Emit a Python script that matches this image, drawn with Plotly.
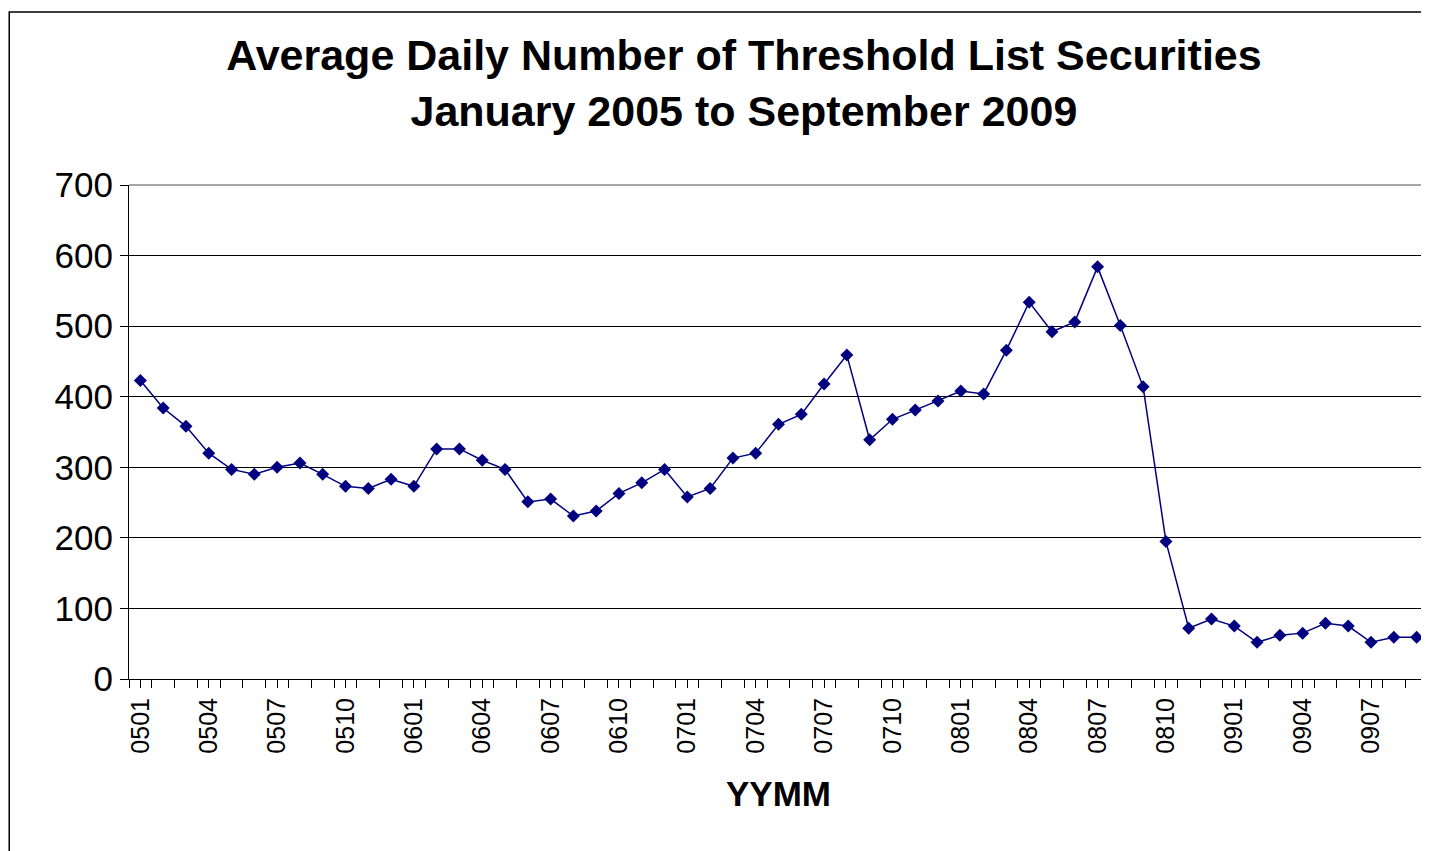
import plotly.graph_objects as go

months = ["0501", "0502", "0503", "0504", "0505", "0506", "0507", "0508", "0509", "0510", "0511", "0512",
          "0601", "0602", "0603", "0604", "0605", "0606", "0607", "0608", "0609", "0610", "0611", "0612",
          "0701", "0702", "0703", "0704", "0705", "0706", "0707", "0708", "0709", "0710", "0711", "0712",
          "0801", "0802", "0803", "0804", "0805", "0806", "0807", "0808", "0809", "0810", "0811", "0812",
          "0901", "0902", "0903", "0904", "0905", "0906", "0907", "0908", "0909"]
counts = [423, 384, 358, 320, 297, 290, 300, 306, 290, 273, 270, 283,
          273, 326, 326, 310, 297, 251, 255, 231, 238, 263, 278, 297,
          258, 270, 313, 320, 361, 375, 418, 459, 339, 368, 381, 394,
          408, 404, 466, 534, 492, 506, 584, 501, 414, 195, 72, 85,
          75, 52, 62, 65, 79, 75, 52, 59, 59]

idx = list(range(len(months)))

fig = go.Figure(go.Scatter(
    x=idx, y=counts, mode="lines+markers",
    line=dict(color="#000080", width=1.5),
    marker=dict(symbol="diamond", size=10, color="#000080"),
))

fig.update_layout(
    width=1429, height=851,
    margin=dict(l=121, r=9, t=177, b=180),
    paper_bgcolor="white", plot_bgcolor="white",
    font=dict(family="Liberation Sans, Arial", color="black"),
    showlegend=False,
    title=dict(text="<b>Average Daily Number of Threshold List Securities<br>January 2005 to September 2009</b>",
               x=0.515, xanchor="center", y=0.927, yanchor="middle", font=dict(size=43)),
)
fig.update_xaxes(
    range=[-0.5, len(months) - 0.5],
    tickvals=idx[::3], ticktext=months[::3], tickangle=-90,
    tickfont=dict(size=25), ticks="outside", ticklen=8, tickcolor="black",
    minor=dict(ticks="outside", dtick=1, tick0=0.5, ticklen=8, tickcolor="black", showgrid=False),
    showline=True, linecolor="black", mirror=False, showgrid=False, zeroline=False,
    title=dict(text="<b>YYMM</b>", font=dict(size=35), standoff=28),
)
fig.update_yaxes(
    range=[0, 700], dtick=100, tickfont=dict(size=35),
    ticks="outside", ticklen=8, tickcolor="black",
    showline=True, linecolor="black", showgrid=True, gridcolor="black", gridwidth=1,
    zeroline=False,
)
fig.add_shape(type="line", xref="paper", yref="paper", x0=1, x1=1, y0=0, y1=1,
              line=dict(color="#888888", width=1.5))
fig.add_shape(type="line", xref="paper", yref="paper", x0=0, x1=1, y0=1, y1=1,
              line=dict(color="#888888", width=1.5))
fig.add_shape(type="rect", xref="paper", yref="paper", x0=-0.0922, x1=1.2, y0=-0.5, y1=1.35,
              line=dict(color="black", width=1.5))

fig.write_html("out.html")
